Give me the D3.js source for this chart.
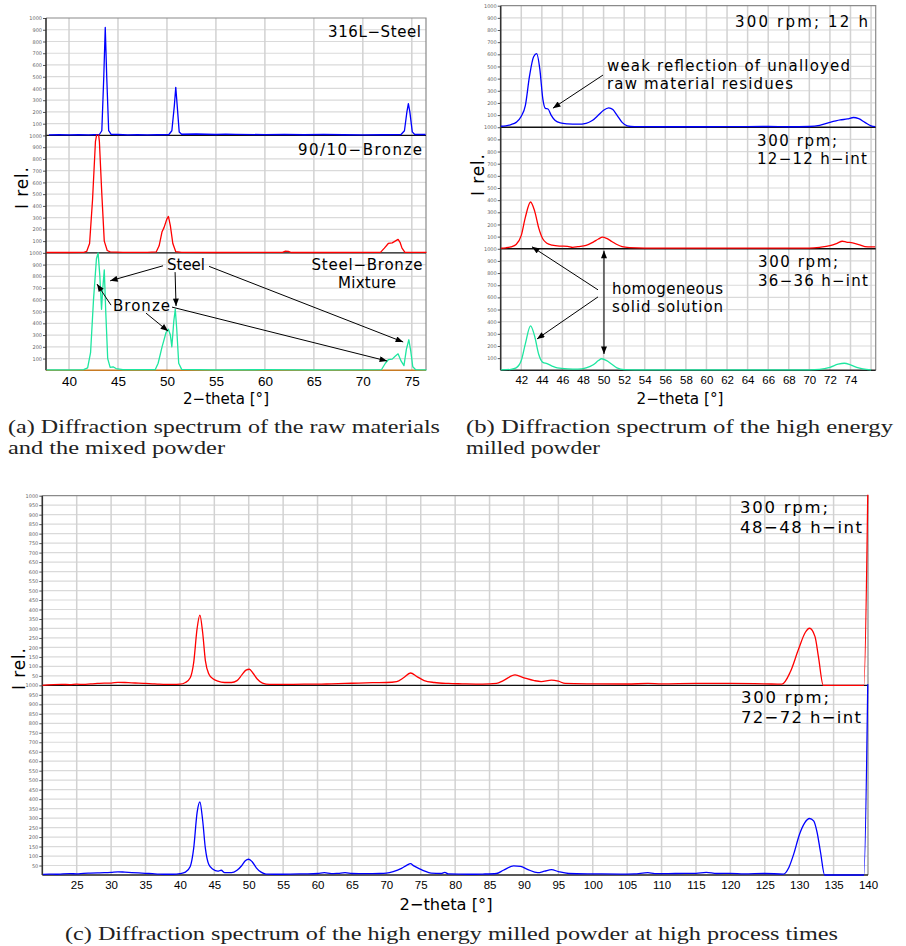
<!DOCTYPE html>
<html>
<head>
<meta charset="utf-8">
<script src="https://cdn.jsdelivr.net/npm/d3@7"></script>
<style>
body{margin:0;background:#fff}
svg{display:block}
</style>
</head>
<body>
<div id="chart"></div>
<script>
// ---- panel (a): raw materials and mixture, [2-theta, I rel.] ----
const steel316L = [[37.95,5],[39,6],[40,5],[41,7],[42,5],[43.1,8],[43.35,40],[43.55,500],[43.7,920],[43.85,500],[44.05,40],[44.3,10],[45,8],[46,5],[47,6],[48,5],[49,6],[50.2,8],[50.5,40],[50.75,250],[50.9,410],[51.05,250],[51.25,30],[51.5,10],[53,12],[55,8],[56,11],[57,9],[60,7],[62,9],[64,6],[66,9],[68,6],[70,5],[72,6],[73.9,8],[74.25,40],[74.5,200],[74.65,270],[74.8,200],[75.05,30],[75.3,8],[76.4,8]]
const bronze9010 = [[37.7,3],[40,3],[41.5,5],[41.8,12],[42.1,80],[42.4,450],[42.7,950],[42.95,1060],[43.1,950],[43.35,500],[43.6,100],[43.9,20],[44.2,8],[45.5,5],[48,4],[48.9,8],[49.2,60],[49.5,180],[49.7,215],[50.0,290],[50.15,310],[50.35,230],[50.6,80],[50.9,10],[51.5,4],[55,3],[61.8,4],[62.1,15],[62.4,12],[62.7,3],[66,3],[71.8,4],[72.2,40],[72.6,80],[73.0,85],[73.3,100],[73.6,115],[73.8,90],[74.0,40],[74.3,5],[76.5,4]]
const mixture = [[37.7,3],[40,4],[41.5,5],[41.9,20],[42.2,150],[42.5,600],[42.8,950],[42.97,1000],[43.15,800],[43.32,520],[43.45,700],[43.6,855],[43.75,500],[43.95,100],[44.2,25],[44.5,30],[44.8,15],[45.5,5],[48.8,5],[49.1,60],[49.5,200],[49.9,320],[50.15,350],[50.35,300],[50.5,200],[50.7,420],[50.85,520],[51.0,350],[51.2,60],[51.5,8],[55,4],[60,5],[65,4],[71.9,5],[72.3,60],[72.6,90],[73.0,95],[73.3,120],[73.6,140],[73.9,80],[74.2,40],[74.45,180],[74.7,260],[74.9,160],[75.1,30],[75.4,5],[76.5,4]]

// ---- panel (b): high energy milled powder ----
const rpm300_12h = [[40,8],[40.5,12],[41,22],[41.5,40],[42,90],[42.4,180],[42.8,420],[43.2,580],[43.5,605],[43.8,480],[44.1,230],[44.35,155],[44.6,150],[44.9,100],[45.3,55],[45.8,35],[46.5,28],[47.5,25],[48.3,32],[48.9,55],[49.5,100],[50.0,140],[50.5,160],[50.9,145],[51.3,100],[51.8,40],[52.3,12],[53,5],[56,4],[60,4],[64,5],[66,6],[68,4],[70,6],[71,15],[72,40],[73,60],[73.7,68],[74.3,80],[74.8,70],[75.4,40],[76,12],[76.4,5]]
const rpm300_12int = [[40,6],[40.5,8],[41,15],[41.5,35],[42,110],[42.4,260],[42.9,385],[43.3,310],[43.7,170],[44.1,80],[44.5,45],[45,30],[45.7,22],[46.5,20],[47,12],[47.5,18],[48.3,28],[49,55],[49.5,80],[49.9,95],[50.3,85],[50.8,60],[51.3,35],[51.8,18],[52.5,10],[54,6],[58,6],[62,5],[66,5],[70,6],[71,12],[72,25],[72.7,45],[73.2,62],[73.6,55],[74.2,48],[74.8,35],[75.4,18],[76,15],[76.4,15]]
const rpm300_36int = [[40,3],[41,8],[41.5,20],[42,80],[42.4,220],[42.9,365],[43.3,280],[43.7,130],[44.1,65],[44.5,55],[45,35],[45.5,20],[46.5,12],[47.5,10],[48.3,20],[49,45],[49.5,80],[49.8,95],[50.3,80],[50.8,50],[51.3,20],[52,6],[54,3],[60,3],[66,3],[70,4],[71,8],[72,25],[72.8,50],[73.4,58],[74,45],[74.6,25],[75.2,12],[76,3]]

// ---- panel (c): high process times ----
const rpm300_48int = [[20,0],[22.8,5],[24,4],[25,6],[26,5],[27,8],[28,10],[29,12],[30,12],[31,16],[32,15],[33,13],[34,12],[35,10],[36,8],[37,6],[38,5],[39,5],[40,6],[40.8,15],[41.5,40],[42.0,120],[42.5,300],[42.9,370],[43.3,280],[43.7,130],[44.2,60],[44.8,35],[45.5,22],[46.5,15],[47.5,15],[48.3,25],[49,55],[49.6,80],[50.1,85],[50.6,65],[51.2,35],[52,12],[53,5],[55,5],[58,6],[60,6],[62,8],[64,10],[66,12],[68,14],[70,15],[71.5,20],[72.5,40],[73.5,65],[74.5,45],[75.5,25],[77,15],[79,10],[81,8],[84,6],[86,10],[87,25],[88.7,55],[90,40],[91.5,25],[92.5,20],[94,28],[95,22],[96,10],[100,8],[105,7],[108,10],[110,8],[115,10],[120,10],[125,8],[127.5,6],[128.7,70],[129.9,190],[130.9,280],[131.5,301],[132.3,257],[132.8,150],[133.5,0],[139.4,0],[140,1100]]
const rpm300_72int = [[20.1,3],[21,5],[22,4],[23,6],[24,7],[25,6],[26,9],[27,10],[28,11],[29,12],[30,14],[31,17],[32,15],[33,13],[34,11],[35,9],[36,7],[37,5],[38,4],[39,4],[40,7],[40.8,15],[41.5,45],[42,140],[42.5,330],[42.9,385],[43.3,290],[43.7,140],[44.2,55],[44.8,30],[45.5,20],[46,25],[46.5,12],[47.5,12],[48.3,25],[49,50],[49.5,75],[50,83],[50.5,70],[51.1,38],[51.8,15],[52.5,5],[55,4],[58,6],[60,8],[61,12],[62,7],[63,9],[64,12],[65,8],[67,7],[69,8],[70,10],[71,18],[72.2,35],[73,52],[73.5,60],[74,48],[75,30],[75.5,22],[76.5,10],[78,8],[78.5,14],[79,6],[82,4],[84,5],[86,8],[87,25],[88.5,48],[89.5,45],[90.5,30],[92,12],[93,20],[94,28],[95,18],[96.5,8],[100,6],[104,5],[106,6],[108,12],[109,7],[112,8],[115,9],[116.5,14],[118,8],[120,9],[122,6],[125,8],[127.7,5],[128.5,40],[129.2,110],[130,210],[130.8,275],[131.5,298],[132.1,285],[132.6,225],[133.1,120],[133.7,0],[139.4,0],[140,1100]]

// ticks
const xTicksA = [40,45,50,55,60,65,70,75]
const xTicksB = [42,44,46,48,50,52,54,56,58,60,62,64,66,68,70,72,74]
const xGridB = [42,44,46,48,50,52,54,56,58,60,62,64,66,68,70,72,74,76]
const xTicksC = [25,30,35,40,45,50,55,60,65,70,75,80,85,90,95,100,105,110,115,120,125,130,135,140]
const xGridC = [25,30,35,40,45,50,55,60,65,70,75,80,85,90,95,100,105,110,115,120,125,130,135]
const yTicks100 = [100,200,300,400,500,600,700,800,900,1000]
const yTicks50 = [50,100,150,200,250,300,350,400,450,500,550,600,650,700,750,800,850,900,950,1000]

const width = 906
const height = 946
const svg = d3.select("#chart").append("svg")
    .attr("width", width).attr("height", height)
    .attr("viewBox", [0, 0, width, height])
const defs = svg.append("defs")
defs.append("marker")
    .attr("id", "arrow")
    .attr("viewBox", "0 0 10 8")
    .attr("refX", 10).attr("refY", 4)
    .attr("markerWidth", 9).attr("markerHeight", 6)
    .attr("markerUnits", "userSpaceOnUse")
    .attr("orient", "auto-start-reverse")
    .append("path").attr("d", "M0,0L10,4L0,8z").attr("fill", "#000")

const labelFont = "DejaVu Sans"

function drawPanel(p){
    const g = svg.append("g")
    const x = d3.scaleLinear().domain(p.xDomain).range([p.left, p.right])
    const hSub = (p.bottom - p.top) / p.series.length
    const ys = p.series.map((s, i) => d3.scaleLinear().domain([0, 1000])
        .range([p.top + (i + 1) * hSub, p.top + i * hSub]))

    // grid
    const grid = g.append("g")
    ys.forEach(y => {
        grid.append("g").selectAll("line").data(p.yTicks.slice(0, -1)).join("line")
            .attr("x1", p.left).attr("x2", p.right)
            .attr("y1", d => y(d)).attr("y2", d => y(d))
            .attr("stroke", "#dadada").attr("stroke-width", 1.2)
    })
    grid.append("g").selectAll("line").data(p.xGrid).join("line")
        .attr("x1", d => x(d)).attr("x2", d => x(d))
        .attr("y1", p.top).attr("y2", p.bottom)
        .attr("stroke", "#d2d2d2").attr("stroke-width", 1.5)

    // frame
    g.append("path")
        .attr("d", `M${p.left},${p.top}H${p.right}V${p.bottom}`)
        .attr("fill", "none").attr("stroke", "#8a8a8a").attr("stroke-width", 1.2)
    g.append("g").selectAll("line").data(ys.slice(1)).join("line")
        .attr("x1", p.left).attr("x2", p.right)
        .attr("y1", y => y(1000)).attr("y2", y => y(1000))
        .attr("stroke", "#111").attr("stroke-width", 1.3)
    g.append("line")
        .attr("x1", p.left).attr("x2", p.right).attr("y1", p.bottom).attr("y2", p.bottom)
        .attr("stroke", p.baseColor).attr("stroke-width", 1.5)

    // y axes, one per stacked spectrum
    ys.forEach(y => {
        const ax = g.append("g").attr("transform", `translate(${p.left},0)`)
            .call(d3.axisLeft(y).tickValues(p.yTicks).tickFormat(d3.format("d")).tickSize(3).tickPadding(1))
        ax.select(".domain").remove()
        ax.selectAll("line").attr("stroke", "#555")
        ax.selectAll("text").attr("font-size", 5).attr("fill", "#666").attr("font-family", labelFont)
    })
    g.append("line")
        .attr("x1", p.left).attr("x2", p.left).attr("y1", p.top).attr("y2", p.bottom)
        .attr("stroke", "#333").attr("stroke-width", 1.6)

    // spectra
    p.series.forEach((s, i) => {
        const y = ys[i]
        const id = `clip-${p.id}-${i}`
        defs.append("clipPath").attr("id", id).append("rect")
            .attr("x", p.left).attr("y", y(1000) - 1)
            .attr("width", p.right - p.left + 1).attr("height", hSub + 2)
        g.append("path")
            .datum(s.data)
            .attr("clip-path", `url(#${id})`)
            .attr("fill", "none")
            .attr("stroke", s.color)
            .attr("stroke-width", 1.3)
            .attr("stroke-linejoin", "round")
            .attr("d", d3.line().x(d => x(d[0])).y(d => y(d[1])).curve(p.curve))
    })

    // x axis
    const xa = g.append("g").attr("transform", `translate(0,${p.bottom})`)
        .call(d3.axisBottom(x).tickValues(p.xTicks).tickSize(0).tickPadding(p.tickPad))
    xa.select(".domain").remove()
    xa.selectAll("text")
        .attr("font-size", p.tickFont).attr("font-family", "Liberation Sans").attr("fill", "#000")

    g.append("text")
        .attr("x", p.xTitle[0]).attr("y", p.xTitle[1])
        .attr("text-anchor", "middle")
        .attr("font-family", labelFont).attr("font-size", p.titleFont)
        .attr("textLength", p.xTitle[2]).attr("lengthAdjust", "spacingAndGlyphs")
        .text("2\u2212theta [°]")

    g.append("text")
        .attr("transform", `translate(${p.yTitle[0]},${p.yTitle[1]}) rotate(-90)`)
        .attr("text-anchor", "middle")
        .attr("font-family", labelFont).attr("font-size", 17)
        .attr("textLength", 42).attr("lengthAdjust", "spacing")
        .text("I rel.")

    // labels
    g.append("g").selectAll("text").data(p.labels).join("text")
        .attr("x", d => d.x).attr("y", d => d.y)
        .attr("text-anchor", d => d.anchor || "start")
        .attr("font-family", labelFont).attr("font-size", p.labelFont)
        .attr("textLength", d => d.len).attr("lengthAdjust", "spacing")
        .text(d => d.t)

    // arrows, given in data units of one stacked spectrum
    g.append("g").selectAll("line").data(p.arrows || []).join("line")
        .attr("x1", d => x(d.from[0])).attr("y1", d => ys[d.sub](d.from[1]))
        .attr("x2", d => x(d.to[0])).attr("y2", d => ys[d.sub](d.to[1]))
        .attr("stroke", "#000").attr("stroke-width", 1)
        .attr("marker-end", "url(#arrow)")
        .attr("marker-start", d => d.both ? "url(#arrow)" : null)
    return {x, ys}
}

drawPanel({
    id: "a", left: 46, right: 426, top: 18, bottom: 370.3,
    xDomain: [37.65, 76.45], xTicks: xTicksA, xGrid: xTicksA, yTicks: yTicks100,
    curve: d3.curveLinear, baseColor: "#c87a22",
    tickPad: 6, tickFont: 13.5, titleFont: 15, labelFont: 15,
    xTitle: [226, 404, 86], yTitle: [28, 188],
    series: [
        {data: steel316L, color: "#0000ff"},
        {data: bronze9010, color: "#ff0000"},
        {data: mixture, color: "#1ee6a0"}
    ],
    labels: [
        {t: "316L\u2212Steel", x: 421, y: 37, anchor: "end", len: 93},
        {t: "90/10\u2212Bronze", x: 422, y: 155, anchor: "end", len: 124},
        {t: "Steel\u2212Bronze", x: 367, y: 270, anchor: "middle", len: 111},
        {t: "Mixture", x: 367, y: 288, anchor: "middle", len: 58},
        {t: "Steel", x: 167, y: 270, len: 38},
        {t: "Bronze", x: 113, y: 311, len: 57}
    ],
    arrows: [
        {sub: 2, from: [49.6, 890], to: [44.2, 762]},
        {sub: 2, from: [50.83, 836], to: [50.93, 547]},
        {sub: 2, from: [54.3, 885], to: [74.12, 241]},
        {sub: 2, from: [44.29, 555], to: [42.86, 734]},
        {sub: 2, from: [47.86, 487], to: [50.11, 334]},
        {sub: 2, from: [50.52, 538], to: [72.48, 79]}
    ]
})

drawPanel({
    id: "b", left: 500.7, right: 875.7, top: 5.7, bottom: 370.3,
    xDomain: [40, 76.45], xTicks: xTicksB, xGrid: xGridB, yTicks: yTicks100,
    curve: d3.curveMonotoneX, baseColor: "#222",
    tickPad: 6, tickFont: 11.5, titleFont: 15, labelFont: 15,
    xTitle: [680, 404, 87], yTitle: [484, 175],
    series: [
        {data: rpm300_12h, color: "#0000ff"},
        {data: rpm300_12int, color: "#ff0000"},
        {data: rpm300_36int, color: "#1ee6a0"}
    ],
    labels: [
        {t: "300 rpm; 12 h", x: 868, y: 27, anchor: "end", len: 133},
        {t: "weak reflection of unalloyed", x: 607, y: 71, len: 243},
        {t: "raw material residues", x: 607, y: 89, len: 186},
        {t: "300 rpm;", x: 757, y: 146, len: 80},
        {t: "12\u221212 h\u2212int", x: 757, y: 164, len: 110},
        {t: "300 rpm;", x: 758, y: 267, len: 80},
        {t: "36\u221236 h\u2212int", x: 758, y: 286, len: 110},
        {t: "homogeneous", x: 612, y: 294, len: 111},
        {t: "solid solution", x: 612, y: 312, len: 111}
    ],
    arrows: [
        {sub: 0, from: [49.94, 429], to: [45.08, 157]},
        {sub: 2, from: [49.46, 662], to: [43.04, 1016]},
        {sub: 2, from: [49.46, 604], to: [43.53, 258]},
        {sub: 2, from: [50.04, 984], to: [50.04, 134], both: true}
    ]
})

drawPanel({
    id: "c", left: 42.3, right: 868, top: 495.7, bottom: 875,
    xDomain: [20, 140], xTicks: xTicksC, xGrid: xGridC, yTicks: yTicks50,
    curve: d3.curveMonotoneX, baseColor: "#222",
    tickPad: 6, tickFont: 11.5, titleFont: 16, labelFont: 16.5,
    xTitle: [446, 910, 93], yTitle: [25, 669],
    series: [
        {data: rpm300_48int, color: "#ff0000"},
        {data: rpm300_72int, color: "#0000ff"}
    ],
    labels: [
        {t: "300 rpm;", x: 740, y: 513, len: 88},
        {t: "48\u221248 h\u2212int", x: 740, y: 533, len: 122},
        {t: "300 rpm;", x: 741, y: 703, len: 88},
        {t: "72\u221272 h\u2212int", x: 741, y: 723, len: 120}
    ]
})

// captions
const captions = [
    {t: "(a) Diffraction spectrum of the raw materials", x: 8, y: 433, len: 432},
    {t: "and the mixed powder", x: 8, y: 454, len: 217},
    {t: "(b) Diffraction spectrum of the high energy", x: 466, y: 433, len: 427},
    {t: "milled powder", x: 466, y: 454, len: 134},
    {t: "(c) Diffraction spectrum of the high energy milled powder at high process times", x: 65, y: 940, len: 773}
]
svg.append("g").selectAll("text").data(captions).join("text")
    .attr("x", d => d.x).attr("y", d => d.y)
    .attr("font-family", "Liberation Serif").attr("font-size", 19)
    .attr("fill", "#222")
    .attr("textLength", d => d.len).attr("lengthAdjust", "spacingAndGlyphs")
    .text(d => d.t)
</script>
</body>
</html>
